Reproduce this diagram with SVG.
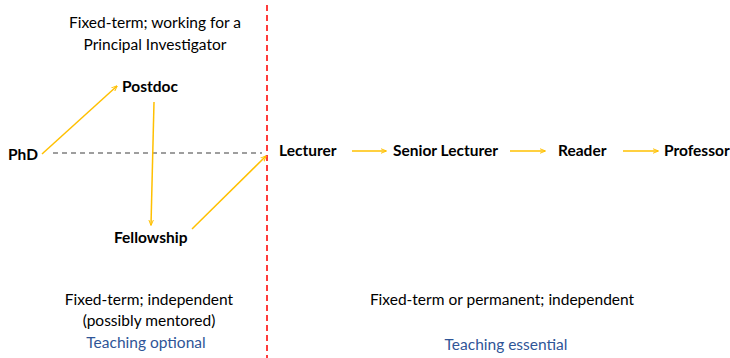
<svg xmlns="http://www.w3.org/2000/svg" width="730" height="358" viewBox="0 0 730 358">
<defs>
<marker id="ah" viewBox="0 0 10 10" refX="9" refY="5" markerWidth="6" markerHeight="6" orient="auto" markerUnits="userSpaceOnUse">
<path d="M0,1 L10,5 L0,9" fill="none" stroke="#FFC000" stroke-width="1.6"/>
</marker>
<style>
text{font-family:Lato,"Open Sans",sans-serif;font-size:15.5px;fill:#000}
.b{font-weight:bold}
.blue{fill:#2F5597}
.arr{stroke:#FFC000;stroke-width:1.5;fill:none;marker-end:url(#ah)}
</style>
</defs>
<rect width="730" height="358" fill="#fff"/>
<line x1="267" y1="5" x2="267" y2="358" stroke="#FF3B3B" stroke-width="2" stroke-dasharray="6,4"/>
<g id="labels" text-anchor="middle">
<text x="155" y="28">Fixed-term; working for a</text>
<text x="155" y="50">Principal Investigator</text>
<text x="149" y="305">Fixed-term; independent</text>
<text x="149" y="326">(possibly mentored)</text>
<text x="146" y="348" class="blue">Teaching optional</text>
<text x="502" y="305">Fixed-term or permanent; independent</text>
<text x="506" y="350" class="blue">Teaching essential</text>
</g>
<g id="connectors">
<line x1="53" y1="153" x2="262" y2="153" stroke="#7F7F7F" stroke-width="1.3" stroke-dasharray="5,4"/>
<line class="arr" x1="42" y1="154" x2="117" y2="86"/>
<line class="arr" x1="154" y1="102" x2="151" y2="225"/>
<line class="arr" x1="192" y1="229" x2="266" y2="156"/>
<line class="arr" x1="352" y1="151" x2="386" y2="151"/>
<line class="arr" x1="510" y1="151" x2="545" y2="151"/>
<line class="arr" x1="623" y1="151" x2="658" y2="151"/>
</g>
<g id="phd"><text class="b" x="8" y="160">PhD</text></g>
<g id="postdoc"><text class="b" x="122" y="92">Postdoc</text></g>
<g id="fellowship"><text class="b" x="114" y="243">Fellowship</text></g>
<g id="lecturer"><text class="b" x="279" y="156">Lecturer</text></g>
<g id="senior-lecturer"><text class="b" x="393" y="156">Senior Lecturer</text></g>
<g id="reader"><text class="b" x="558" y="156">Reader</text></g>
<g id="professor"><text class="b" x="664" y="156">Professor</text></g>
</svg>
